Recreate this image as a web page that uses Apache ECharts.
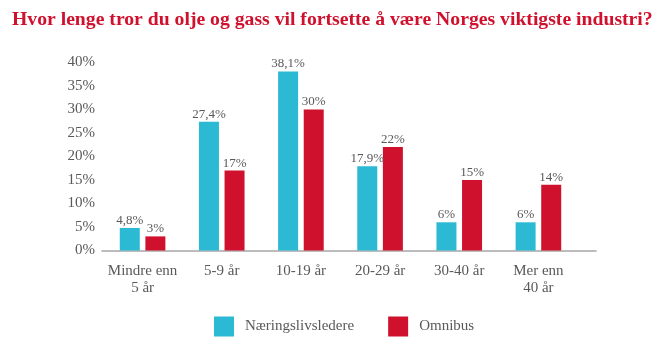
<!DOCTYPE html>
<html>
<head>
<meta charset="utf-8">
<script src="https://cdn.jsdelivr.net/npm/echarts@6/dist/echarts.min.js"></script>
<style>
  html, body { margin: 0; padding: 0; background: #ffffff; }
  #chart { width: 665px; height: 348px; }
</style>
</head>
<body>
<div id="chart"></div>
<script>
// Survey: how long will oil and gas remain Norway's most important industry?
const titleText = 'Hvor lenge tror du olje og gass vil fortsette å være Norges viktigste industri?';
const categories = ['Mindre enn\n5 år', '5-9 år', '10-19 år', '20-29 år', '30-40 år', 'Mer enn\n40 år'];
const seriesNames = ['Næringslivsledere', 'Omnibus'];
const leaders = [4.8, 27.4, 38.1, 17.9, 6, 6];
const omnibus = [3, 17, 30, 22, 15, 14];
const yTicks = { min: 0, max: 40, interval: 5 };

const FONT = '"Liberation Serif", "DejaVu Serif", serif';
const GRAY = '#595959';
const CYAN = '#2cb9d3';
const RED = '#d0112e';

const fmtPct = v => String(v).replace('.', ',') + '%';

const chart = echarts.init(document.getElementById('chart'), null, { renderer: 'canvas' });

chart.setOption({
  animation: false,
  backgroundColor: '#ffffff',
  textStyle: { fontFamily: FONT },
  title: {
    text: titleText,
    left: 7,
    top: 5,
    textStyle: { fontFamily: FONT, fontSize: 19.7, fontWeight: 'bold', color: RED }
  },
  legend: {
    data: seriesNames,
    left: 209,
    top: 311.5,
    itemWidth: 20,
    itemHeight: 20,
    itemGap: 34,
    icon: 'rect',
    textStyle: { fontFamily: FONT, fontSize: 15, color: GRAY, padding: [0, 0, 0, 6] }
  },
  grid: [
    { left: 103, right: 87, top: 62.5, bottom: 97.5 },
    { left: 102, right: 69, top: 62.5, bottom: 97.5 }
  ],
  xAxis: [
    {
      type: 'category',
      gridIndex: 0,
      data: categories,
      axisLine: { show: false },
      axisTick: { show: false },
      axisLabel: { interval: 0, fontFamily: FONT, fontSize: 15, color: GRAY, margin: 12, lineHeight: 17 }
    },
    {
      // baseline running the full width of the plot area
      type: 'value',
      gridIndex: 1,
      min: 0,
      max: 1,
      axisLine: { show: true, lineStyle: { color: '#a6a6a6', width: 1.5 } },
      axisTick: { show: false },
      axisLabel: { show: false },
      splitLine: { show: false }
    }
  ],
  yAxis: [
    {
      type: 'value',
      gridIndex: 0,
      min: yTicks.min,
      max: yTicks.max,
      interval: yTicks.interval,
      axisLine: { show: false },
      axisTick: { show: false },
      splitLine: { show: false },
      axisLabel: { fontFamily: FONT, fontSize: 15, color: GRAY, margin: 8, formatter: v => v + '%' }
    },
    {
      type: 'value',
      gridIndex: 1,
      show: false
    }
  ],
  series: [
    {
      name: seriesNames[0],
      type: 'bar',
      xAxisIndex: 0,
      yAxisIndex: 0,
      data: leaders,
      barWidth: 20,
      barGap: '28%',
      itemStyle: { color: CYAN },
      label: {
        show: true, position: 'top', distance: 1,
        fontFamily: FONT, fontSize: 13, color: GRAY,
        formatter: p => fmtPct(p.value)
      }
    },
    {
      name: seriesNames[1],
      type: 'bar',
      xAxisIndex: 0,
      yAxisIndex: 0,
      data: omnibus,
      barWidth: 20,
      barGap: '28%',
      itemStyle: { color: RED },
      label: {
        show: true, position: 'top', distance: 1,
        fontFamily: FONT, fontSize: 13, color: GRAY,
        formatter: p => fmtPct(p.value)
      }
    }
  ]
});
</script>
</body>
</html>
